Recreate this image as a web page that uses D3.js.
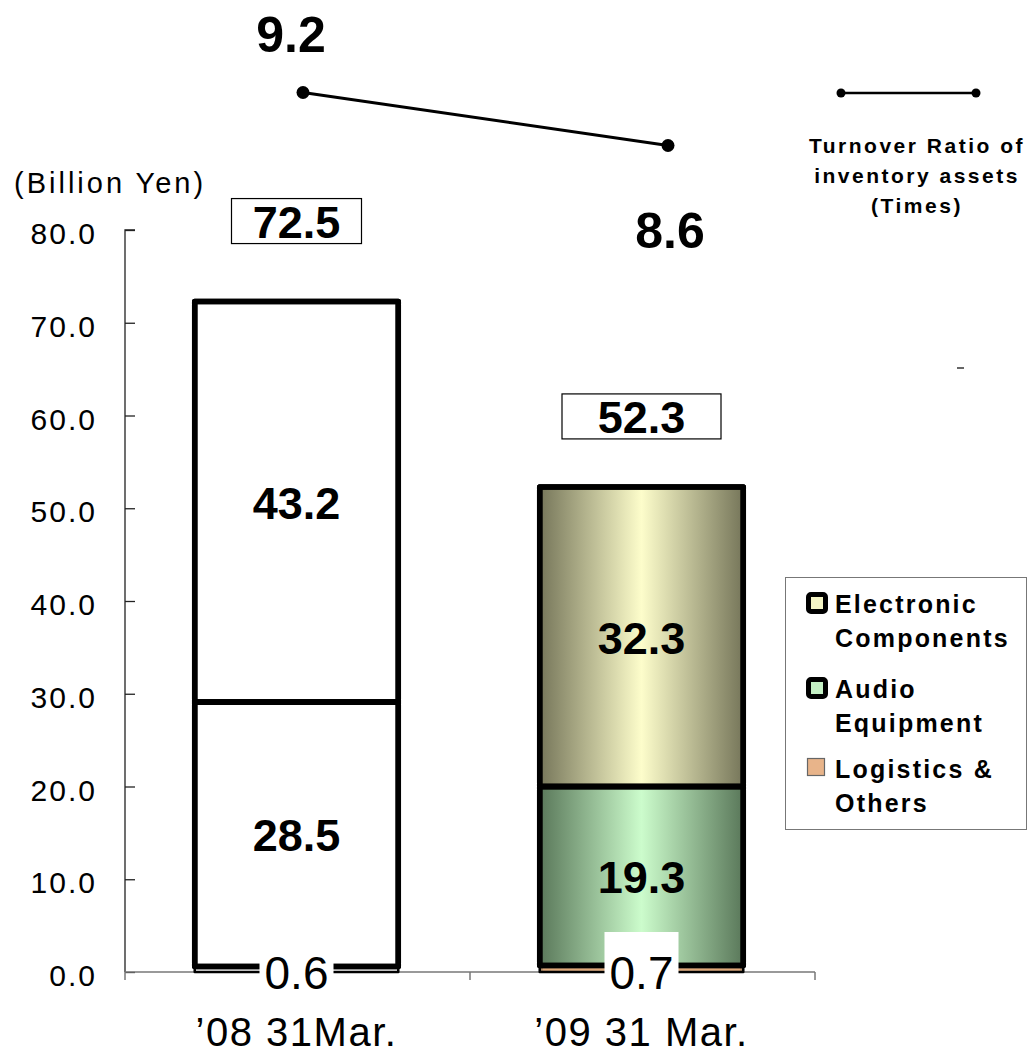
<!DOCTYPE html>
<html><head><meta charset="utf-8">
<script src="https://cdn.jsdelivr.net/npm/d3@7"></script>
<style>
html,body{margin:0;padding:0;background:#fff;}
svg{display:block;}
</style></head>
<body>
<script>
// ---- DATA ----
const categories = ["’08 31Mar.", "’09 31 Mar."];
const seriesNames = ["Logistics & Others", "Audio Equipment", "Electronic Components"];
const logistics = [0.6, 0.7];
const audio = [28.5, 19.3];
const electronic = [43.2, 32.3];
const totals = [72.5, 52.3];
const turnover = [9.2, 8.6];
const yTicks = [0, 10, 20, 30, 40, 50, 60, 70, 80];
const legendLabels = [["Electronic", "Components"], ["Audio", "Equipment"], ["Logistics &", "Others"]];
const lineLegendLabel = ["Turnover Ratio of", "inventory assets", "(Times)"];
const yUnit = "(Billion Yen)";

// ---- LAYOUT ----
const W = 1028, H = 1056;
const svg = d3.select("body").append("svg").attr("width", W).attr("height", H);
const defs = svg.append("defs");
function grad(id, edge, mid) {
  const g = defs.append("linearGradient").attr("id", id).attr("x1", 0).attr("x2", 1).attr("y1", 0).attr("y2", 0);
  g.append("stop").attr("offset", 0).attr("stop-color", edge);
  g.append("stop").attr("offset", 0.5).attr("stop-color", mid);
  g.append("stop").attr("offset", 1).attr("stop-color", edge);
}
grad("gElec", "#76765a", "#fdfdcb");
grad("gAudio", "#5a785a", "#ccfccc");
grad("gLog", "#b08a68", "#f0c49c");

const x = d3.scaleBand().domain(categories).range([124, 814]).paddingInner(0.41).paddingOuter(0.205);
const y = d3.scaleLinear().domain([0, 80]).range([972, 230]);
const xLine = d3.scalePoint().domain(categories).range([303, 668]);
const yLine = d3.scaleLinear().domain([8, 10]).range([198.5, 21.8]);
const lblFont = "'Liberation Sans', Arial, sans-serif";

// y axis
const yAxis = d3.axisRight(y).tickValues(yTicks).tickSize(10).tickFormat("");
const gy = svg.append("g").attr("transform", "translate(125,0)").call(yAxis);
gy.select(".domain").attr("stroke", "#222").attr("stroke-width", 1.3).attr("d", `M10,${y(80)}H0V${y(0)}`);
gy.selectAll(".tick line").attr("stroke", "#222").attr("stroke-width", 1.3);
svg.append("g").selectAll("text").data(yTicks).join("text")
  .attr("x", 97).attr("y", d => y(d) + 14)
  .attr("text-anchor", "end")
  .style("font-family", lblFont).style("font-size", "30px").style("letter-spacing", "2px")
  .text(d => d.toFixed(1));
svg.append("text").attr("x", 14).attr("y", 193)
  .style("font-family", lblFont).style("font-size", "29px").style("letter-spacing", "3px")
  .text(yUnit);

// x axis
const gx = svg.append("g");
gx.append("line").attr("x1", 125).attr("x2", 815).attr("y1", y(0)).attr("y2", y(0)).attr("stroke", "#777").attr("stroke-width", 1.5);
const xEdges = [125, 125 + x.step(), 125 + 2 * x.step()];
gx.selectAll("line.t").data(xEdges).join("line").attr("class", "t")
  .attr("x1", d => d).attr("x2", d => d).attr("y1", y(0)).attr("y2", y(0) + 8)
  .attr("stroke", "#777").attr("stroke-width", 1.5);
gx.selectAll("text").data(categories).join("text")
  .attr("x", d => x(d) + x.bandwidth() / 2).attr("y", 1046)
  .attr("text-anchor", "middle")
  .style("font-family", lblFont).style("font-size", "40px").style("letter-spacing", "1.5px")
  .text(d => d);

// stacked bars
const stackData = categories.map((c, i) => ({ cat: c, i, log: logistics[i], audio: audio[i], elec: electronic[i] }));
const stack = d3.stack().keys(["log", "audio", "elec"])(stackData);
const fills = {
  log: ["#ffffff", "url(#gLog)"],
  audio: ["#ffffff", "url(#gAudio)"],
  elec: ["#ffffff", "url(#gElec)"]
};
const bars = svg.append("g");
stack.forEach(layer => {
  bars.selectAll(null).data(layer).join("rect")
    .attr("x", d => x(d.data.cat))
    .attr("width", x.bandwidth())
    .attr("y", d => y(d[1]))
    .attr("height", d => y(d[0]) - y(d[1]))
    .attr("fill", d => fills[layer.key][d.data.i])
    .attr("stroke", "#000").attr("stroke-width", layer.key === "log" ? 2.5 : 5.5).attr("stroke-linejoin", "round");
});
// redraw taller segments' outlines on top so the thin bottom segment doesn't cover them
stack.filter(l => l.key !== "log").forEach(layer => {
  bars.selectAll(null).data(layer).join("rect")
    .attr("x", d => x(d.data.cat))
    .attr("width", x.bandwidth())
    .attr("y", d => y(d[1]))
    .attr("height", d => y(d[0]) - y(d[1]))
    .attr("fill", "none")
    .attr("stroke", "#000").attr("stroke-width", 5.5).attr("stroke-linejoin", "round");
});
bars.append("line")
  .attr("x1", x(categories[1]) + 3).attr("x2", x(categories[1]) + x.bandwidth() - 3)
  .attr("y1", y(0) - 2.5).attr("y2", y(0) - 2.5)
  .attr("stroke", "#e0a878").attr("stroke-width", 1.5);

// segment value labels (audio, electronic)
["audio", "elec"].forEach(key => {
  const layer = stack.find(s => s.key === key);
  svg.append("g").selectAll("text").data(layer).join("text")
    .attr("x", d => x(d.data.cat) + x.bandwidth() / 2)
    .attr("y", d => (y(d[0]) + y(d[1])) / 2 + 17)
    .attr("text-anchor", "middle")
    .style("font-family", lblFont).style("font-size", "45px").style("font-weight", "bold")
    .text(d => d.data[key].toFixed(1));
});
// logistics labels with white backgrounds
const logG = svg.append("g");
logG.selectAll("rect").data(stackData).join("rect")
  .attr("x", d => x(d.cat) + x.bandwidth() / 2 - 37)
  .attr("y", (d, i) => i === 0 ? 958 : 932).attr("width", 74).attr("height", (d, i) => i === 0 ? 37 : 63)
  .attr("fill", "#fff");
logG.selectAll("text").data(stackData).join("text")
  .attr("x", d => x(d.cat) + x.bandwidth() / 2)
  .attr("y", 989)
  .attr("text-anchor", "middle")
  .style("font-family", lblFont).style("font-size", "46px")
  .text(d => d.log.toFixed(1));

// total boxes
const boxW = [130, 159];
const totG = svg.append("g");
totals.forEach((t, i) => {
  const cx = x(categories[i]) + x.bandwidth() / 2;
  const bottom = y(t) - (i === 0 ? 56 : 48);
  totG.append("rect").attr("x", cx - boxW[i] / 2).attr("y", bottom - 45)
    .attr("width", boxW[i]).attr("height", 45)
    .attr("fill", "#fff").attr("stroke", "#000").attr("stroke-width", 1.2);
  totG.append("text").attr("x", cx).attr("y", bottom - 6)
    .attr("text-anchor", "middle")
    .style("font-family", lblFont).style("font-size", "45px").style("font-weight", "bold")
    .text(t.toFixed(1));
});

// turnover line
const lineG = svg.append("g");
const pts = categories.map((c, i) => [xLine(c), yLine(turnover[i])]);
lineG.append("path").attr("d", d3.line()(pts)).attr("fill", "none").attr("stroke", "#000").attr("stroke-width", 3);
lineG.selectAll("circle").data(pts).join("circle")
  .attr("cx", d => d[0]).attr("cy", d => d[1]).attr("r", 6.5).attr("fill", "#000");
lineG.selectAll("text").data(turnover).join("text")
  .attr("x", (d, i) => pts[i][0] + (i === 0 ? -12 : 2))
  .attr("y", (d, i) => pts[i][1] + (i === 0 ? -40 : 103))
  .attr("text-anchor", "middle")
  .style("font-family", lblFont).style("font-size", "50px").style("font-weight", "bold")
  .text(d => d.toFixed(1));

// line legend
const ll = svg.append("g");
ll.append("line").attr("x1", 841).attr("x2", 976).attr("y1", 93).attr("y2", 93).attr("stroke", "#000").attr("stroke-width", 2.5);
ll.selectAll("circle").data([841, 976]).join("circle").attr("cx", d => d).attr("cy", 93).attr("r", 4.5).attr("fill", "#000");
ll.selectAll("text").data(lineLegendLabel).join("text")
  .attr("x", 917).attr("y", (d, i) => 153 + i * 30)
  .attr("text-anchor", "middle")
  .style("font-family", lblFont).style("font-size", "21px").style("font-weight", "bold").style("letter-spacing", "2.5px")
  .text(d => d);
ll.append("line").attr("x1", 957).attr("x2", 964).attr("y1", 368).attr("y2", 368).attr("stroke", "#333").attr("stroke-width", 1.5);

// series legend
const lg = svg.append("g");
lg.append("rect").attr("x", 785.5).attr("y", 577.5).attr("width", 241).attr("height", 252)
  .attr("fill", "#fff").attr("stroke", "#777").attr("stroke-width", 1);
const swFill = ["#f4f4c4", "#c4f0c4", "#e8b48a"];
const swY = [592, 677, 757];
legendLabels.forEach((lab, i) => {
  if (i < 2) {
    lg.append("rect").attr("x", 808.5).attr("y", swY[i] + 2.5).attr("width", 17).attr("height", 17).attr("rx", 2.5)
      .attr("fill", swFill[i]).attr("stroke", "#000").attr("stroke-width", 5);
  } else {
    lg.append("rect").attr("x", 807.5).attr("y", swY[i] + 1.5).attr("width", 17).attr("height", 17)
      .attr("fill", swFill[i]).attr("stroke", "#666").attr("stroke-width", 1.2);
  }
  lab.forEach((t, j) => {
    lg.append("text").attr("x", 835).attr("y", swY[i] + 21 + j * 34)
      .style("font-family", lblFont).style("font-size", "25px").style("font-weight", "bold").style("letter-spacing", "2.2px")
      .text(t);
  });
});
</script>
</body></html>
